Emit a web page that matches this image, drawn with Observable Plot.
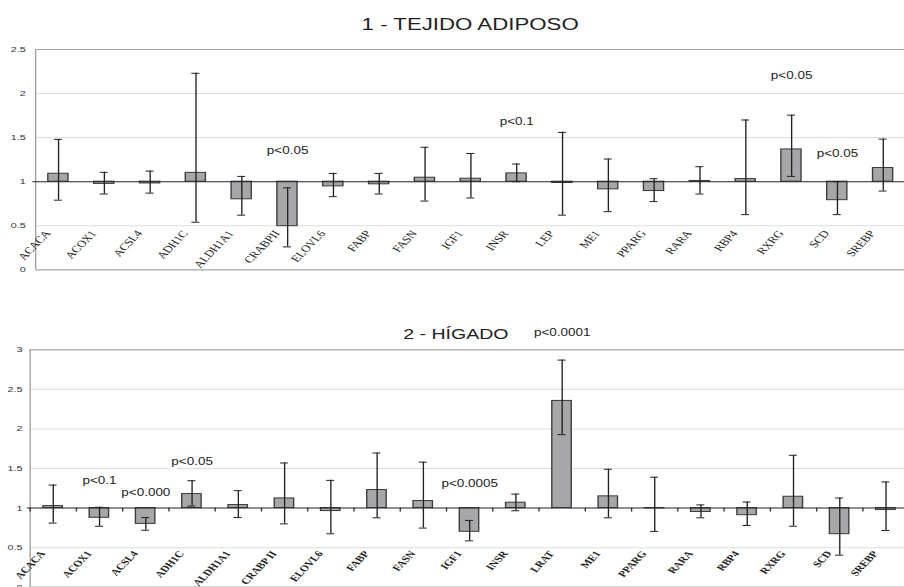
<!DOCTYPE html>
<html><head><meta charset="utf-8">
<script src="https://cdn.jsdelivr.net/npm/d3@7"></script>
<script src="https://cdn.jsdelivr.net/npm/@observablehq/plot@0.6"></script>
<style>
html,body{margin:0;padding:0;background:#fff;}
#chart{position:relative;width:904px;height:587px;overflow:hidden;background:#fff;}
#chart svg{display:block;}
</style></head><body><div id="chart"></div>
<script>
// ---------- Panel 1 : tejido adiposo ----------
const adiposeTitle = "1 - TEJIDO ADIPOSO";
const adiposeGenes = ["ACACA","ACOX1","ACSL4","ADH1C","ALDH1A1","CRABPII","ELOVL6","FABP","FASN","IGF1","INSR","LEP","ME1","PPARG","RARA","RBP4","RXRG","SCD","SREBP"];
const adiposeValues = [1.09,0.975,0.98,1.10,0.80,0.495,0.947,0.97,1.045,1.034,1.094,0.985,0.913,0.894,1.008,1.03,1.366,0.79,1.155];
const adiposeLow    = [0.79,0.86,0.87,0.54,0.62,0.26,0.83,0.86,0.78,0.815,1.00,0.62,0.66,0.774,0.86,0.626,1.06,0.626,0.894];
const adiposeHigh   = [1.48,1.106,1.12,2.23,1.06,0.93,1.094,1.094,1.39,1.32,1.20,1.56,1.257,1.034,1.17,1.70,1.755,1.00,1.483];
const adiposeTicks = [0,0.5,1,1.5,2,2.5];
const adiposeNoteGenes = ["CRABPII","INSR","RXRG","SCD"];
const adiposeNoteY     = [1.354,1.68,2.2,1.317];
const adiposeNoteText  = ["p<0.05","p<0.1","p<0.05","p<0.05"];

// ---------- Panel 2 : hígado ----------
const liverTitle = "2 - HÍGADO";
const liverGenes = ["ACACA","ACOX1","ACSL4","ADH1C","ALDH1A1","CRABP II","ELOVL6","FABP","FASN","IGF1","INSR","LRAT","ME1","PPARG","RARA","RBP4","RXRG","SCD","SREBP"];
const liverValues = [1.025,0.877,0.80,1.177,1.038,1.122,0.962,1.228,1.089,0.70,1.068,2.354,1.148,0.996,0.95,0.91,1.143,0.67,0.975];
const liverLow    = [0.81,0.77,0.72,1.025,0.88,0.80,0.675,0.877,0.747,0.586,0.966,1.928,0.877,0.705,0.877,0.78,0.77,0.405,0.717];
const liverHigh   = [1.29,1.01,0.88,1.346,1.22,1.57,1.35,1.696,1.58,0.844,1.177,2.87,1.49,1.39,1.04,1.076,1.667,1.127,1.33];
const liverTicks = [0,0.5,1,1.5,2,2.5,3];
const liverNoteGenes = ["ACOX1","ACSL4","ADH1C","IGF1","LRAT"];
const liverNoteY     = [1.345,1.19,1.586,1.31,3.22];
const liverNoteText  = ["p<0.1","p<0.000","p<0.05","p<0.0005","p<0.0001"];

// ---------- layout ----------
const S = 1.35;                 // horizontal stretch of the reference picture
const W = Math.round(904 / S);  // internal drawing width

function panel(cfg) {
  const rows = cfg.genes.map((g, i) => ({gene: g, v: cfg.values[i], lo: cfg.low[i], hi: cfg.high[i]}));
  const notes = cfg.noteGenes.map((g, i) => ({gene: g, y: cfg.noteY[i], text: cfg.noteText[i]}));
  const x0 = cfg.left / S, x1 = cfg.right / S;
  const step = (x1 - x0) / cfg.genes.length;
  const bw = step * (1 - cfg.pad);
  const capInset = (bw - 8 / S) / 2;
  const top = cfg.ticks[cfg.ticks.length - 1];
  const marks = [
    Plot.ruleY(cfg.ticks.filter(t => t !== 0 && t !== top && t !== 1), {stroke: "#dddddd"}),
    Plot.ruleY([0, top], {stroke: "#a8a8a8", strokeWidth: 1.2}),
    Plot.ruleX([cfg.genes[0]], {x: d => d, y1: 0, y2: top, dx: -step / 2, stroke: "#a0a0a0"}),
    Plot.axisY({ticks: cfg.ticks, tickSize: 0, tickPadding: cfg.tickPad, tickFormat: d => String(d),
      fontSize: 8, fill: "#333", label: null}),
    Plot.barY(rows, {x: "gene", y1: () => 1, y2: "v", fill: "#a7a7aa", stroke: "#3a3a3a", strokeWidth: 1}),
    Plot.ruleY([1], {stroke: "#222", strokeWidth: 1, insetLeft: -2}),
  ];
  if (cfg.boundaryTicks) {
    marks.push(Plot.ruleX(cfg.genes, {x: d => d, y1: 1, y2: 0.95, dx: -step / 2, stroke: "#333"}));
  }
  marks.push(
    Plot.ruleX(rows, {x: "gene", y1: "lo", y2: "hi", stroke: "#222", strokeWidth: 1}),
    Plot.tickY(rows, {x: "gene", y: "lo", stroke: "#222", insetLeft: capInset, insetRight: capInset}),
    Plot.tickY(rows, {x: "gene", y: "hi", stroke: "#222", insetLeft: capInset, insetRight: capInset}),
    Plot.text(rows, {x: "gene", y: () => 1, text: "gene", rotate: -54, textAnchor: "end",
      dx: cfg.labelDx, dy: cfg.labelDy, fontFamily: "Liberation Serif", fontSize: cfg.labelSize,
      fontWeight: cfg.labelWeight, fill: "#222", ariaLabel: "gene-labels"}),
    Plot.text(notes, {x: "gene", y: "y", text: "text", fontFamily: "Liberation Sans", fontSize: 10,
      fill: "#222", stroke: "white", strokeWidth: 6}),
    Plot.text([cfg.title], {frameAnchor: "top", text: d => d, dx: cfg.titleDx, dy: cfg.titleDy,
      fontFamily: "Liberation Sans", fontSize: cfg.titleSize, fill: "#222"})
  );
  const svg = Plot.plot({
    width: W,
    height: cfg.height,
    marginTop: cfg.marginTop,
    marginBottom: cfg.marginBottom,
    marginLeft: x0,
    marginRight: 0,
    style: {fontFamily: "Liberation Sans", fontSize: "8px", background: "transparent", overflow: "visible"},
    x: {type: "band", domain: cfg.genes, range: [x0, x1], paddingInner: cfg.pad, paddingOuter: cfg.pad / 2, round: false, axis: null},
    y: {domain: [0, top], axis: null},
    marks
  });
  if (cfg.subscripts) {
    svg.querySelectorAll('g[aria-label="gene-labels"] text').forEach(t => {
      const m = t.textContent.match(/^([A-Z]+?)(\d.*)$/);
      if (!m) return;
      t.textContent = "";
      const a = document.createElementNS("http://www.w3.org/2000/svg", "tspan");
      a.textContent = m[1];
      const b = document.createElementNS("http://www.w3.org/2000/svg", "tspan");
      b.textContent = m[2];
      b.setAttribute("dx", "1.5");
      b.setAttribute("dy", "0.3em");
      b.setAttribute("font-size", "88%");
      t.appendChild(a); t.appendChild(b);
    });
  }
  svg.setAttribute("width", 904);
  svg.setAttribute("height", cfg.height);
  svg.setAttribute("viewBox", `0 0 ${W} ${cfg.height}`);
  svg.setAttribute("preserveAspectRatio", "none");
  svg.style.maxWidth = "none";
  svg.style.width = "904px";
  svg.style.height = cfg.height + "px";
  return svg;
}

const chart = document.getElementById("chart");
chart.appendChild(panel({
  title: adiposeTitle, genes: adiposeGenes, values: adiposeValues, low: adiposeLow, high: adiposeHigh,
  ticks: adiposeTicks, noteGenes: adiposeNoteGenes, noteY: adiposeNoteY, noteText: adiposeNoteText,
  height: 290, marginTop: 49, marginBottom: 20.7, left: 35, right: 906, pad: 0.56, tickPad: 7.4,
  labelDx: -8, labelDy: 50, labelSize: 9.6, labelWeight: "normal", subscripts: true,
  boundaryTicks: false, titleDx: 0, titleDy: -31.5, titleSize: 16.5
}));
chart.appendChild(panel({
  title: liverTitle, genes: liverGenes, values: liverValues, low: liverLow, high: liverHigh,
  ticks: liverTicks, noteGenes: liverNoteGenes, noteY: liverNoteY, noteText: liverNoteText,
  height: 297, marginTop: 59.3, marginBottom: 0.3, left: 29.5, right: 909, pad: 0.58, tickPad: 5.6,
  labelDx: -7.8, labelDy: 44, labelSize: 8.8, labelWeight: "bold", subscripts: false,
  boundaryTicks: true, titleDx: -8.6, titleDy: -20.8, titleSize: 14.5
}));
</script></body></html>
